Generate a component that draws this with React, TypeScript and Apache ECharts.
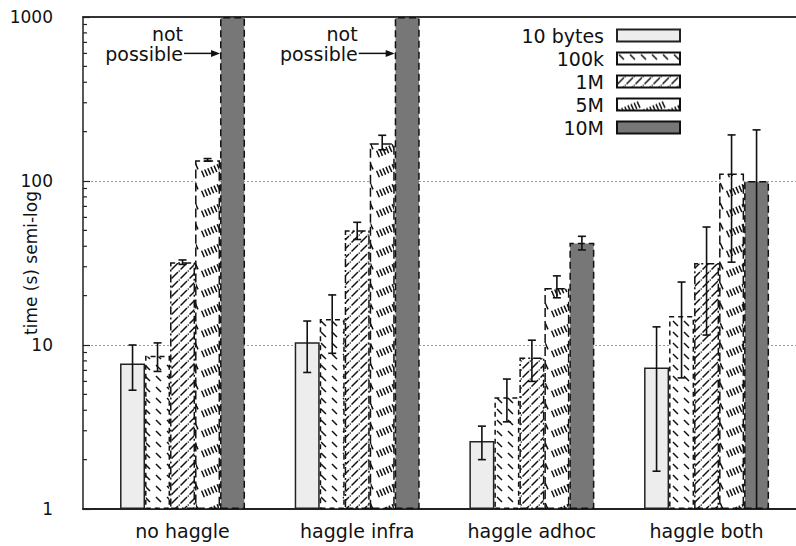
import React, { useEffect, useRef } from 'react';
import * as echarts from 'echarts';

const categories = ['no haggle', 'haggle infra', 'haggle adhoc', 'haggle both'];
const seriesNames = ['10 bytes', '100k', '1M', '5M', '10M'];

const bytes10 = [7.7, 10.4, 2.6, 7.3];
const k100 = [8.6, 14.4, 4.8, 15];
const m1 = [32, 50, 8.4, 31.6];
const m5 = [134, 170, 22.3, 111];
const m10 = [1000, 1000, 42, 100];

const bytes10Err: (number[] | null)[] = [[5.3, 10], [6.8, 14], [2.0, 3.2], [1.7, 12.9]];
const k100Err: (number[] | null)[] = [[6.9, 10.3], [8.9, 20.2], [3.4, 6.2], [6.3, 24.2]];
const m1Err: (number[] | null)[] = [[31, 33], [44, 56], [6.0, 10.7], [11.5, 52.4]];
const m5Err: (number[] | null)[] = [[132, 137], [155, 190], [19.4, 26.4], [32, 191]];
const m10Err: (number[] | null)[] = [null, null, [38, 46], [1, 205]];

const yTickValues = [1, 10, 100, 1000];
const minorTickValues = [2, 3, 4, 5, 6, 7, 8, 9, 20, 30, 40, 50, 60, 70, 80, 90, 200, 300, 400, 500, 600, 700, 800, 900];
const notPossible = ['no haggle', 'haggle infra'];

const FONT = 'DejaVu Sans';
const BAR_W = 25;

function tile(w: number, h: number, draw: (ctx: CanvasRenderingContext2D) => void) {
  const c = document.createElement('canvas');
  c.width = w;
  c.height = h;
  const ctx = c.getContext('2d') as CanvasRenderingContext2D;
  ctx.fillStyle = '#ffffff';
  ctx.fillRect(0, 0, w, h);
  ctx.strokeStyle = '#111111';
  ctx.fillStyle = '#111111';
  ctx.lineCap = 'butt';
  draw(ctx);
  return { image: c.toDataURL(), repeat: 'repeat', imageWidth: w, imageHeight: h };
}

function seg(ctx: CanvasRenderingContext2D, x1: number, y1: number, x2: number, y2: number, lw: number) {
  ctx.lineWidth = lw;
  ctx.beginPath();
  ctx.moveTo(x1, y1);
  ctx.lineTo(x2, y2);
  ctx.stroke();
}

export default function App() {
  const ref = useRef<HTMLDivElement>(null);

  useEffect(() => {
    if (!ref.current) return;
    const chart = echarts.init(ref.current, null, { renderer: 'svg' });

    const p100k = tile(11, 11, (ctx) => {
      seg(ctx, 2, 2, 7, 7, 1.5);
    });
    const p1M = tile(9, 9, (ctx) => {
      seg(ctx, 0.5, 8.5, 7, 2, 1.5);
      ctx.fillRect(7.6, 0.4, 1.3, 1.3);
    });
    const p5M = tile(25, 20, (ctx) => {
      for (let k = 0; k < 7; k++) {
        const cx = 3 + 3.1 * k;
        const cy = 14 - 1.3 * k;
        seg(ctx, cx - 1.4, cy - 3.2, cx + 1.4, cy + 3.2, 1.5);
      }
    });

    const styles: any[] = [
      { color: '#ededed', borderColor: '#222', borderWidth: 1.5, borderType: 'solid' },
      { color: p100k, borderColor: '#111', borderWidth: 1.5, borderType: [5, 4] },
      { color: p1M, borderColor: '#111', borderWidth: 1.5, borderType: [8, 3, 2, 3] },
      { color: p5M, borderColor: '#111', borderWidth: 1.5, borderType: [9, 4] },
      { color: '#777777', borderColor: '#111', borderWidth: 1.5, borderType: [7, 4] },
    ];
    const values = [bytes10, k100, m1, m5, m10];
    const errs = [bytes10Err, k100Err, m1Err, m5Err, m10Err];

    const errData: number[][] = [];
    errs.forEach((arr, s) => {
      arr.forEach((e, c) => {
        if (e) errData.push([c, e[0], e[1], s]);
      });
    });

    const barSeries = seriesNames.map((name, i) => ({
      name,
      type: 'bar',
      xAxisIndex: 2,
      yAxisIndex: 1,
      barWidth: BAR_W,
      barGap: '0%',
      data: values[i],
      itemStyle: styles[i],
      emphasis: { disabled: true },
      z: 2,
    }));

    const option: any = {
      animation: false,
      backgroundColor: '#ffffff',
      textStyle: { fontFamily: FONT },
      grid: [
        { left: 83, top: 17, width: 722, height: 492, outerBoundsMode: 'none', containLabel: false },
        { left: 95.2, top: 17, width: 698.7, height: 492, outerBoundsMode: 'none', containLabel: false },
      ],
      xAxis: [
        {
          gridIndex: 0, type: 'value', min: 0, max: 1, position: 'bottom',
          axisLine: { show: true, lineStyle: { color: '#222', width: 2 } },
          axisTick: { show: false }, axisLabel: { show: false }, splitLine: { show: false },
        },
        {
          gridIndex: 0, type: 'value', min: 0, max: 1, position: 'top',
          axisLine: { show: true, lineStyle: { color: '#333', width: 2 } },
          axisTick: { show: false }, axisLabel: { show: false }, splitLine: { show: false },
        },
        {
          gridIndex: 1, type: 'category', data: categories,
          axisLine: { show: false }, axisTick: { show: false },
          axisLabel: { fontFamily: FONT, fontSize: 19, color: '#111', margin: 12 },
        },
      ],
      yAxis: [
        {
          gridIndex: 0, type: 'log', min: 1, max: 1000, logBase: 10, splitNumber: 3,
          name: 'time (s) semi-log', nameLocation: 'middle', nameGap: 44, nameMoveOverlap: false,
          nameTextStyle: { fontFamily: FONT, fontSize: 17, color: '#111' },
          axisLine: { show: true, lineStyle: { color: '#222', width: 1.5 } },
          axisTick: { show: true, inside: true, length: 7, lineStyle: { color: '#222', width: 1.2 } },
          axisLabel: {
            fontFamily: FONT, fontSize: 17, color: '#111', margin: 30,
            formatter: (v: number) => String(yTickValues.find((t) => Math.abs(t - v) < 1e-6) ?? Math.round(v)),
          },
          splitLine: { show: true, lineStyle: { color: '#999', type: [2, 2], width: 1.2 } },
        },
        { gridIndex: 1, type: 'log', min: 1, max: 1000, logBase: 10, show: false },
      ],
      legend: {
        data: seriesNames,
        orient: 'vertical',
        right: 115,
        top: 26,
        padding: 0,
        align: 'right',
        itemWidth: 63,
        itemHeight: 12,
        itemGap: 4,
        icon: 'rect',
        selectedMode: false,
        textStyle: { fontFamily: FONT, fontSize: 19, color: '#111', padding: [0, 8, 0, 0] },
      },
      series: [
        ...barSeries,
        {
          type: 'custom',
          name: 'errors',
          xAxisIndex: 2,
          yAxisIndex: 1,
          z: 5,
          clip: true,
          silent: true,
          encode: { x: 0, y: [1, 2] },
          data: errData,
          renderItem: (params: any, api: any) => {
            const c = api.value(0);
            const lo = api.value(1);
            const hi = api.value(2);
            const s = api.value(3);
            const top = api.coord([c, hi]);
            const bot = api.coord([c, lo]);
            const x = top[0] + (s - 2) * BAR_W;
            const cap = 4;
            const st = { stroke: '#111', lineWidth: 1.6 };
            return {
              type: 'group',
              children: [
                { type: 'line', shape: { x1: x, y1: top[1], x2: x, y2: bot[1] }, style: st },
                { type: 'line', shape: { x1: x - cap, y1: top[1], x2: x + cap, y2: top[1] }, style: st },
                { type: 'line', shape: { x1: x - cap, y1: bot[1], x2: x + cap, y2: bot[1] }, style: st },
              ],
            };
          },
        },
        {
          type: 'custom',
          name: 'minorTicks',
          xAxisIndex: 0,
          yAxisIndex: 0,
          silent: true,
          z: 6,
          encode: { x: 0, y: 1 },
          data: minorTickValues.map((v) => [0, v]),
          renderItem: (params: any, api: any) => {
            const p = api.coord([0, api.value(1)]);
            return {
              type: 'line',
              shape: { x1: p[0], y1: p[1], x2: p[0] + 4, y2: p[1] },
              style: { stroke: '#222', lineWidth: 1.2 },
            };
          },
        },
      ],
    };

    chart.setOption(option);

    const graphics: any[] = [];
    notPossible.forEach((cat) => {
      const p = chart.convertToPixel({ gridIndex: 1 }, [cat, 600]) as number[];
      const barLeft = p[0] + 2 * BAR_W - BAR_W / 2;
      const y = p[1];
      graphics.push({
        type: 'text',
        z: 10,
        style: {
          text: 'not\npossible',
          x: barLeft - 37,
          y: y - 29,
          align: 'right',
          verticalAlign: 'top',
          font: `19px "${FONT}"`,
          lineHeight: 20,
          fill: '#111',
        },
      });
      graphics.push({
        type: 'line',
        z: 10,
        shape: { x1: barLeft - 36, y1: y, x2: barLeft - 7, y2: y },
        style: { stroke: '#111', lineWidth: 1.5 },
      });
      graphics.push({
        type: 'polygon',
        z: 10,
        shape: { points: [[barLeft, y], [barLeft - 9, y - 3.5], [barLeft - 9, y + 3.5]] },
        style: { fill: '#111' },
      });
    });
    chart.setOption({ graphic: graphics });

    return () => {
      chart.dispose();
    };
  }, []);

  return (
    <div
      ref={ref}
      style={{ position: 'fixed', left: 0, top: 0, width: 796, height: 546, background: '#fff' }}
    />
  );
}
